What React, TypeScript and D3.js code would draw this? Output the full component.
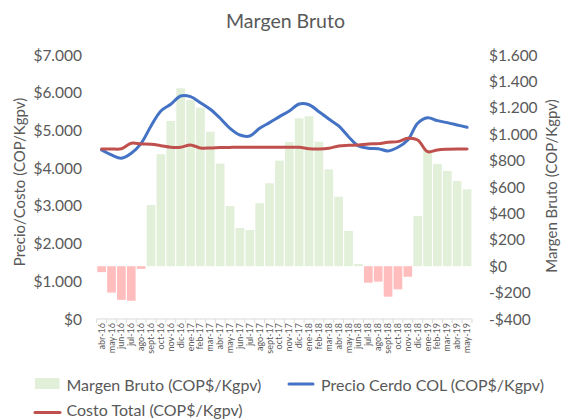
import React from "react";
import * as d3 from "d3";

const months = ["abr-16","may-16","jun-16","jul-16","ago-16","sept-16","oct-16","nov-16","dic-16","ene-17","feb-17","mar-17","abr-17","may-17","jun-17","jul-17","ago-17","sept-17","oct-17","nov-17","dic-17","ene-18","feb-18","mar-18","abr-18","may-18","jun-18","jul-18","ago-18","sept-18","oct-18","nov-18","dic-18","ene-19","feb-19","mar-19","abr-19","may-19"];

const margen = [-45,-200,-255,-262,-20,463,848,1100,1348,1258,1201,1019,777,456,289,274,477,628,800,941,1120,1136,943,734,527,267,17,-125,-117,-231,-175,-80,380,881,775,722,645,582];

const precio = [4480,4349,4261,4394,4659,5118,5516,5693,5913,5895,5736,5561,5322,5057,4879,4853,5057,5206,5365,5516,5700,5680,5497,5304,5118,4834,4588,4527,4517,4455,4553,4747,5190,5338,5259,5206,5145,5083];

const costo = [4508,4508,4515,4659,4641,4632,4596,4553,4553,4614,4535,4535,4545,4550,4553,4555,4555,4555,4555,4555,4553,4517,4508,4526,4588,4605,4614,4641,4650,4685,4703,4791,4747,4437,4482,4500,4508,4508];

const leftTicks = [0,1000,2000,3000,4000,5000,6000,7000];
const rightTicks = [-400,-200,0,200,400,600,800,1000,1200,1400,1600];

const W = 562, H = 420;
const plot = { left: 96.7, right: 472, top: 55, bottom: 319 };
const FONT = "Lato, 'Open Sans', sans-serif";
const GRAY = "#595959";

const fmt = (v: number) => {
  const s = Math.abs(v).toString().replace(/\B(?=(\d{3})+(?!\d))/g, ".");
  return (v < 0 ? "-$" : "$") + s;
};

export default function App() {
  const xb = d3.scaleBand<string>().domain(months).range([plot.left, plot.right]);
  const yL = d3.scaleLinear().domain([0, 7000]).range([plot.bottom, plot.top]);
  const yR = d3.scaleLinear().domain([-400, 1600]).range([plot.bottom, plot.top]);
  const cx = (m: string) => (xb(m) as number) + xb.bandwidth() / 2;
  const line = d3.line<number>().x((_, i) => cx(months[i])).y((d) => yL(d)).curve(d3.curveCatmullRom.alpha(0.5));

  return (
    <svg width={W} height={H} style={{ position: "absolute", left: 0, top: 0, background: "#fff" }} fontFamily={FONT}>
      <rect width={W} height={H} fill="#fff" />
      <text x={285.5} y={28} textAnchor="middle" fontSize={19.5} fill={GRAY}>Margen Bruto</text>

      {/* bars */}
      {margen.map((v, i) => {
        const m = months[i];
        const bx = xb(m) as number;
        const y0 = yR(0), y1 = yR(v);
        return (
          <rect key={m} x={bx + 0.6} width={xb.bandwidth() - 1.2} y={Math.min(y0, y1)} height={Math.abs(y1 - y0)}
            fill={v >= 0 ? "#E2EFD9" : "#FFBDBD"} />
        );
      })}

      {/* x axis */}
      <line x1={plot.left} x2={plot.right} y1={plot.bottom} y2={plot.bottom} stroke="#D9D9D9" strokeWidth={1} />
      {months.map((m) => (
        <line key={"t" + m} x1={xb(m) as number} x2={xb(m) as number} y1={plot.bottom} y2={plot.bottom + 4} stroke="#D9D9D9" />
      ))}
      <line x1={plot.right} x2={plot.right} y1={plot.bottom} y2={plot.bottom + 4} stroke="#D9D9D9" />
      {months.map((m) => (
        <text key={"l" + m} transform={`translate(${cx(m) + 3},${plot.bottom + 4}) rotate(-90)`} textAnchor="end" fontSize={9} fill={GRAY}>{m}</text>
      ))}

      {/* lines */}
      <path d={line(precio) || ""} fill="none" stroke="#4472C4" strokeWidth={3} strokeLinejoin="round" strokeLinecap="round" />
      <path d={line(costo) || ""} fill="none" stroke="#C0504D" strokeWidth={3} strokeLinejoin="round" strokeLinecap="round" />

      {/* left axis */}
      {leftTicks.map((t) => (
        <text key={"yl" + t} x={82} y={yL(t) + 5.5} textAnchor="end" fontSize={15.5} fill={GRAY}>{fmt(t)}</text>
      ))}
      <text transform={`translate(25,182) rotate(-90)`} textAnchor="middle" fontSize={15} fill={GRAY}>Precio/Costo (COP/Kgpv)</text>

      {/* right axis */}
      {rightTicks.map((t) => (
        <text key={"yr" + t} x={489} y={yR(t) + 5.5} textAnchor="start" fontSize={15.5} fill={GRAY}>{fmt(t)}</text>
      ))}
      <text transform={`translate(557,186) rotate(-90)`} textAnchor="middle" fontSize={15} fill={GRAY}>Margen Bruto (COP/Kgpv)</text>

      {/* legend */}
      <rect x={35} y={378} width={24.5} height={11} fill="#E2EFD9" />
      <text x={66.5} y={390.5} fontSize={16} fill={GRAY}>Margen Bruto (COP$/Kgpv)</text>
      <line x1={289} x2={313} y1={384} y2={384} stroke="#4472C4" strokeWidth={3} strokeLinecap="round" />
      <text x={321} y={390.5} fontSize={16} fill={GRAY}>Precio Cerdo COL (COP$/Kgpv)</text>
      <line x1={35} x2={60} y1={412.5} y2={412.5} stroke="#C0504D" strokeWidth={3} strokeLinecap="round" />
      <text x={66.5} y={416} fontSize={16} fill={GRAY}>Costo Total (COP$/Kgpv)</text>
    </svg>
  );
}
